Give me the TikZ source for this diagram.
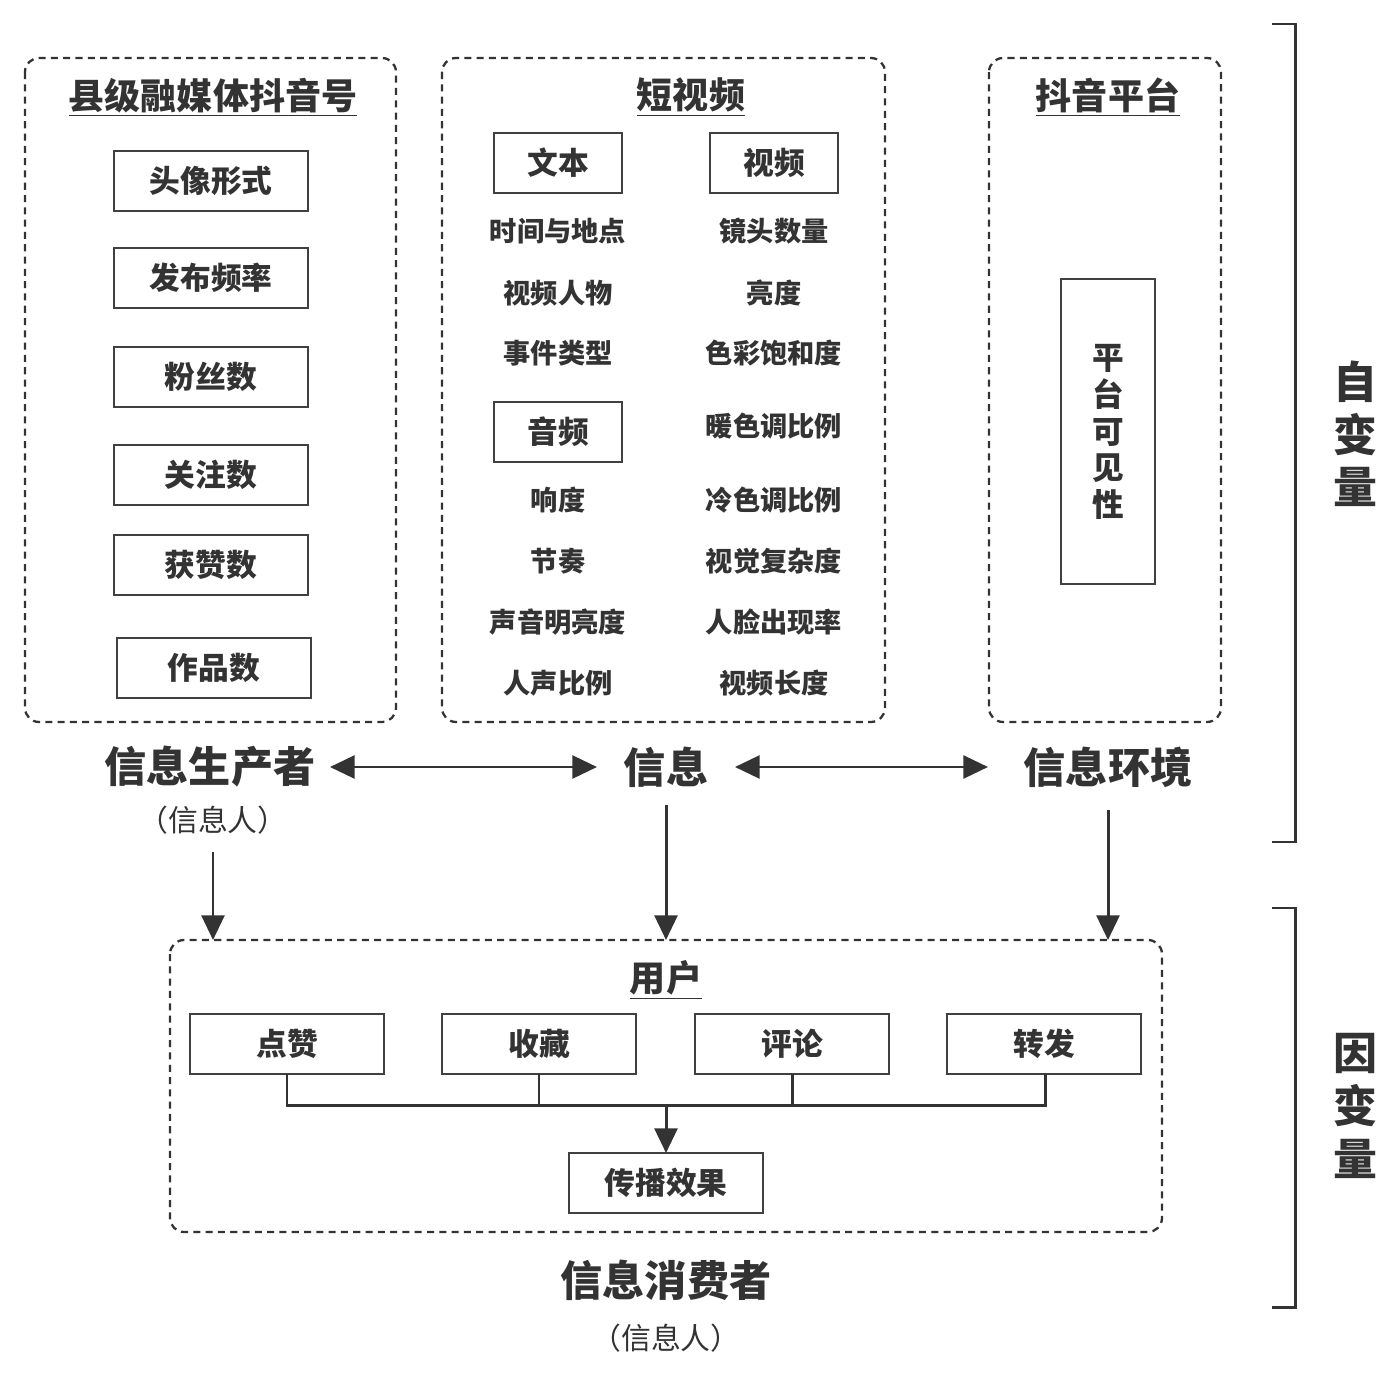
\documentclass[tikz,border=0pt]{standalone}
\usepackage{fontspec}
\setmainfont{Noto Sans CJK SC}
\usetikzlibrary{arrows.meta}
\begin{document}
\begin{tikzpicture}[x=0.02cm,y=-0.02cm,
  dbox/.style={draw=black!80,dash pattern=on 4pt off 3pt,line width=1.3pt,rounded corners=8pt},
  ibox/.style={draw=black!75,line width=0.9pt,fill=white},
  t/.style={font=\fontsize{15.5}{15.5}\selectfont\bfseries,text=black!80},
  tb/.style={font=\fontsize{17.5}{17.5}\selectfont\bfseries,text=black!80},
  ti/.style={font=\fontsize{20.5}{20.5}\selectfont\bfseries,text=black!80},
  big/.style={font=\fontsize{24}{24}\selectfont\bfseries,text=black!80},
  par/.style={font=\fontsize{17}{17}\selectfont,text=black!80},
  arr/.style={line width=1.7pt,draw=black!80,-{Triangle[length=14pt,width=13pt]}},
  darr/.style={line width=1.7pt,draw=black!80,{Triangle[length=14pt,width=13pt]}-{Triangle[length=14pt,width=13pt]}},
  ln/.style={line width=1.7pt,draw=black!80}]
\useasboundingbox (0,0) rectangle (1400,1375);
% left
\draw[dbox] (25,58) rectangle (396,722);
\node[ti] (lt) at (213,97) {\underline{县级融媒体抖音号}};
\foreach \n/\y/\s in {a/181/头像形式,b/278/发布频率,c/377/粉丝数,d/475/关注数,e/565/获赞数}
  \draw[ibox] (114,\y-30) rectangle (308,\y+30) node[tb,midway] (\n) {\s};
\draw[ibox] (117,638) rectangle (311,698) node[tb,midway] (f) {作品数};
% middle
\draw[dbox] (442,58) rectangle (885,722);
\node[ti] (mt) at (691,97) {\underline{短视频}};
\draw[ibox] (494,133) rectangle (622,193) node[tb,midway] (wb) {文本};
\draw[ibox] (710,133) rectangle (838,193) node[tb,midway] (sp) {视频};
\draw[ibox] (494,402) rectangle (622,462) node[tb,midway] (yp) {音频};
\foreach \s/\y [count=\i] in {时间与地点/231,视频人物/293,事件类型/353,响度/500,节奏/561,声音明亮度/622,人声比例/683}
  \node[t] (l\i) at (558,\y) {\s};
\foreach \s/\y [count=\i] in {镜头数量/231,亮度/293,色彩饱和度/353,暖色调比例/426,冷色调比例/500,视觉复杂度/561,人脸出现率/622,视频长度/683}
  \node[t] (r\i) at (774,\y) {\s};
% right
\draw[dbox] (989,58) rectangle (1221,722);
\node[ti] (rt) at (1108,97) {\underline{抖音平台}};
\draw[ibox] (1061,279) rectangle (1155,584);
\node[align=center,font=\fontsize{18}{21}\selectfont\bfseries,text=black!80] (pv) at (1108,432) {平\\台\\可\\见\\性};
% labels
\node[big] (scz) at (210,767) {信息生产者};
\node[par] (xr1) at (213,820) {（信息人）};
\node[big] (xx) at (666,767) {信息};
\node[big] (hj) at (1108,767) {信息环境};
\coordinate (a1) at (330,767); \coordinate (a2) at (597,767);
\coordinate (a3) at (735,767); \coordinate (a4) at (988,767);
\draw[darr] (a1) -- (a2);
\draw[darr] (a3) -- (a4);
\coordinate (d1) at (213,852); \coordinate (e1) at (213,940);
\coordinate (d2) at (666,805); \coordinate (e2) at (666,940);
\coordinate (d3) at (1108,810); \coordinate (e3) at (1108,940);
\draw[arr] (d1) -- (e1);
\draw[arr] (d2) -- (e2);
\draw[arr] (d3) -- (e3);
% bottom
\draw[dbox] (170,940) rectangle (1162,1232);
\node[ti] (yh) at (666,980) {\underline{用户}};
\foreach \n/\x/\s in {dz/287/点赞,sc/539/收藏,pl/792/评论,zf/1044/转发}
  \draw[ibox] (\x-97,1014) rectangle (\x+97,1074) node[tb,midway] (\n) {\s};
\draw[ibox] (569,1153) rectangle (763,1213) node[tb,midway] (cb) {传播效果};
\coordinate (j) at (666,1105);
\draw[ln] (287,1074) -- (287,1105) -- (1045,1105) -- (1045,1074);
\draw[ln] (539,1074) -- (539,1105);
\draw[ln] (792,1074) -- (792,1105);
\draw[arr] (j) -- (cb.north|-0,1153);
\node[big] (xf) at (666,1280) {信息消费者};
\node[par] (xr2) at (666,1338) {（信息人）};
% brackets
\draw[ln] (1272,24) -- (1295,24) -- (1295,842) -- (1272,842);
\draw[ln] (1272,908) -- (1295,908) -- (1295,1307) -- (1272,1307);
\node[align=center,font=\fontsize{25}{30}\selectfont\bfseries,text=black!80] (zbl) at (1355,434) {自\\变\\量};
\node[align=center,font=\fontsize{25}{30}\selectfont\bfseries,text=black!80] (ybl) at (1355,1106) {因\\变\\量};
\end{tikzpicture}
\end{document}
